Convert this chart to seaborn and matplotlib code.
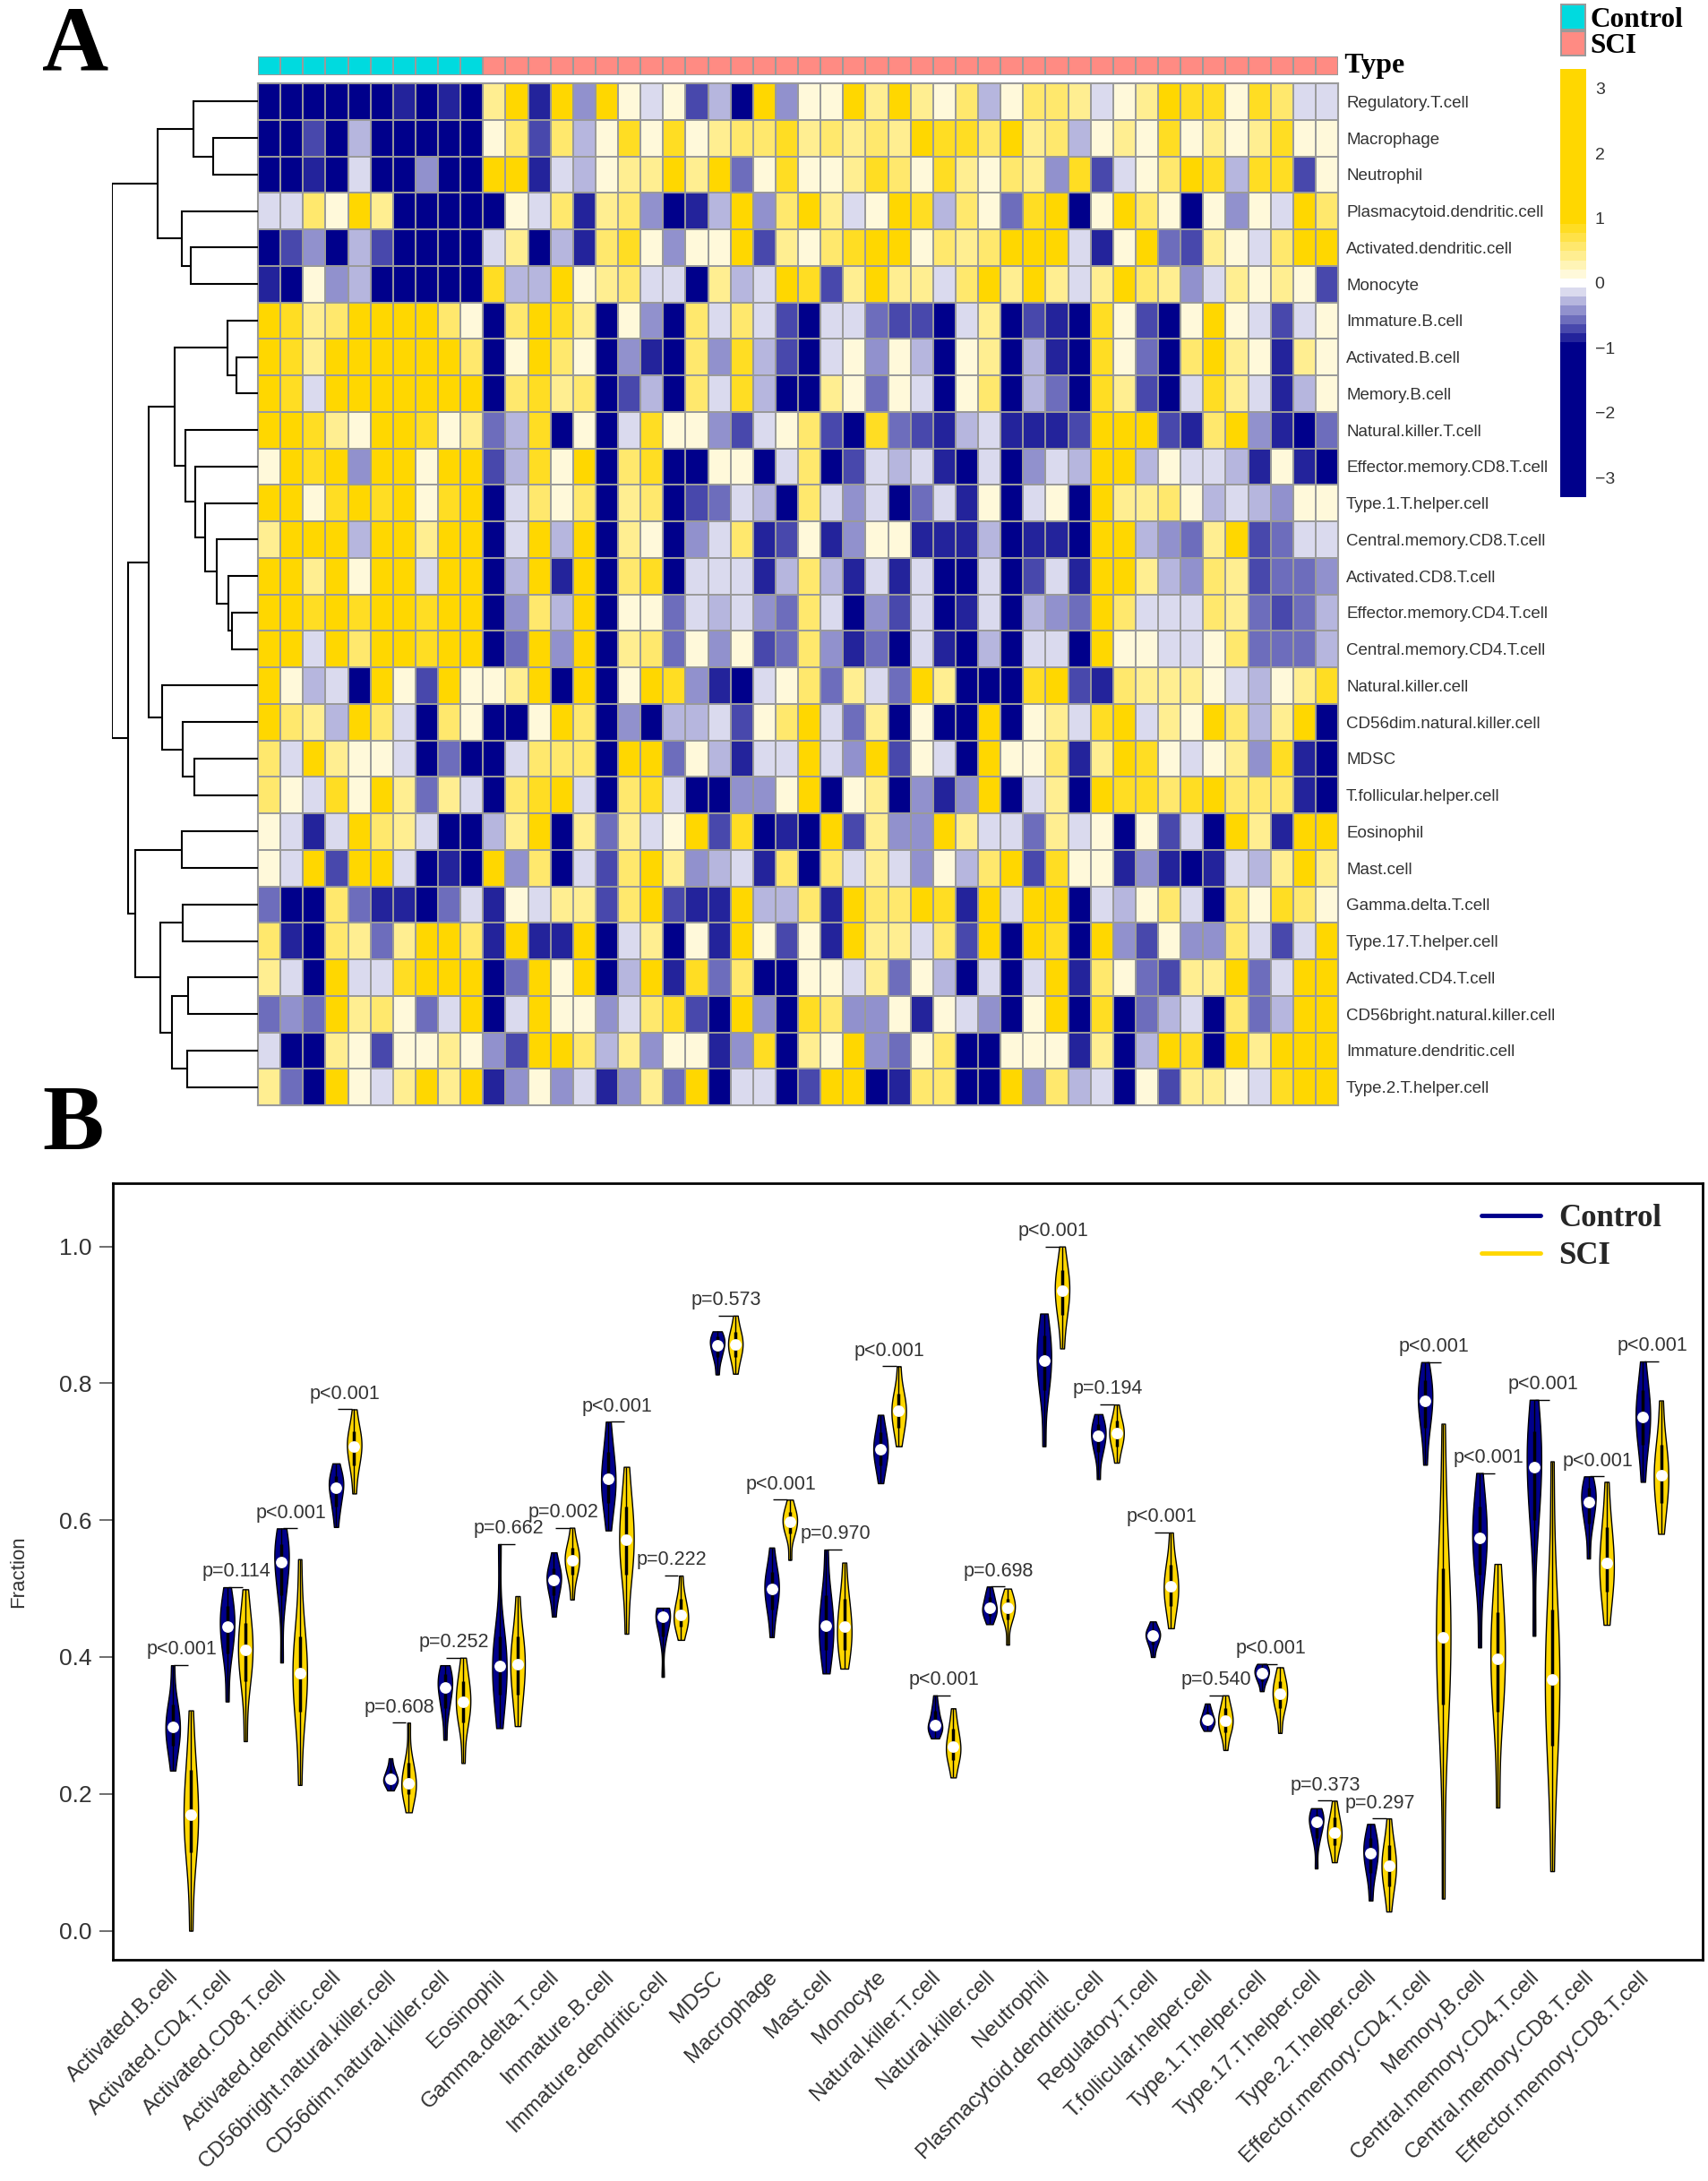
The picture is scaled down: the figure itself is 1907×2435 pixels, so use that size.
import matplotlib
matplotlib.use('Agg')
import matplotlib.pyplot as plt
from matplotlib.colors import LinearSegmentedColormap, ListedColormap
from matplotlib.lines import Line2D
from matplotlib.transforms import ScaledTranslation
import numpy as np
import pandas as pd
import seaborn as sns

# panel A data, one row per immune cell type
heat_rows = ['Regulatory.T.cell', 'Macrophage', 'Neutrophil', 'Plasmacytoid.dendritic.cell',
             'Activated.dendritic.cell', 'Monocyte', 'Immature.B.cell', 'Activated.B.cell',
             'Memory.B.cell', 'Natural.killer.T.cell', 'Effector.memory.CD8.T.cell',
             'Type.1.T.helper.cell', 'Central.memory.CD8.T.cell', 'Activated.CD8.T.cell',
             'Effector.memory.CD4.T.cell', 'Central.memory.CD4.T.cell', 'Natural.killer.cell',
             'CD56dim.natural.killer.cell', 'MDSC', 'T.follicular.helper.cell', 'Eosinophil',
             'Mast.cell', 'Gamma.delta.T.cell', 'Type.17.T.helper.cell', 'Activated.CD4.T.cell',
             'CD56bright.natural.killer.cell', 'Immature.dendritic.cell', 'Type.2.T.helper.cell']
sample_types = [0] * 10 + [1] * 38

# z-scores in tenths
heat_tenths = [
    [-20,-20,-20,-20,-20,-20,-9,-20,-9,-20, 4,15,-9,15,-4,15,2,-2,2,-7,-3,-20,15,-4,2, 2,15,4,15,4,1,6,-3,2,6,6,4,-1,1,4,15,8,8,1,8,6,-2,-1],
    [-20,-20,-7,-20,-3,-20,-20,-20,-20,-20, 2,6,-7,6,-3,2,8,1,8,1,4,6,6,8,4, 6,4,6,4,15,8,8,6,15,4,6,-3,1,4,2,8,2,4,2,4,8,2,1],
    [-20,-20,-9,-20,-1,-20,-20,-4,-20,-20, 15,15,-8,-2,-3,1,4,4,15,4,15,-6,2,8,1, 1,4,8,6,2,8,4,2,6,4,-4,8,-7,-1,2,6,15,8,-3,8,8,-7,2],
    [-2,-1,6,1,15,4,-20,-20,-20,-20, -20,1,-1,6,-8,4,6,-4,-20,-9,-3,15,-4,6,15, 4,-1,1,15,8,-3,6,1,-6,8,15,-20,2,15,6,1,-20,1,-4,2,-2,15,6],
    [-20,-7,-4,-20,-3,-7,-20,-20,-20,-20, -1,4,-20,-3,-8,6,8,1,-4,2,1,15,-7,4,2, 6,8,15,15,1,6,4,6,15,15,15,-1,-8,1,15,-6,-7,4,1,-1,6,15,15],
    [-9,-20,2,-4,-3,-20,-20,-20,-20,-20, 8,-3,-3,15,2,4,6,-1,-1,-20,4,-3,-2,15,8, -7,4,15,4,4,-2,6,15,4,15,4,-1,4,15,6,4,-4,-1,4,2,4,2,-7],
    [15,8,4,6,15,15,15,15,6,1, -20,6,15,8,4,-20,1,-4,-20,6,-2,6,-2,-7,-20, -1,-2,-6,-7,-7,-20,-1,4,-20,-7,-9,-20,8,2,-7,-20,2,15,1,-2,-7,-1,1],
    [15,8,4,15,15,15,15,15,15,6, -20,2,15,6,2,-20,-4,-8,-20,6,-4,8,-3,-7,-20, -1,2,-4,1,-3,-20,2,4,-20,-3,-9,-20,8,2,-6,-20,6,15,4,1,-9,4,1],
    [15,8,-1,15,15,15,15,15,15,15, -20,6,8,4,6,-20,-7,-3,-20,6,-2,8,-3,-20,-20, 4,2,-6,1,-2,-20,1,6,-20,-3,-6,-20,8,4,-7,-20,-1,8,4,-2,-9,-3,2],
    [15,15,8,4,2,15,15,8,1,4, -6,-3,8,-20,2,-20,-1,8,1,1,-4,-7,-2,2,6, -7,-20,8,-6,-7,-8,-3,-1,-8,-8,-9,-7,15,15,15,-7,-9,6,15,-4,-8,-20,-6],
    [2,15,8,15,-4,15,15,2,15,15, -7,-3,8,2,15,-20,6,8,-20,-20,1,2,-20,-2,6, -20,-7,-1,-3,-2,-8,-20,-2,-20,-4,-2,-3,15,15,-3,2,-1,-1,-3,-8,1,-9,-20],
    [15,15,2,8,15,8,15,1,8,15, -20,-2,6,1,6,-20,4,6,-20,-7,-6,-2,-3,-20,6, -2,-4,-1,-20,-6,-1,-9,2,-20,-2,2,-20,15,4,4,6,1,-3,-1,-3,-4,2,2],
    [4,15,15,15,-3,15,15,4,15,15, -20,-2,15,-3,15,-20,4,2,-20,-4,-1,6,-9,-7,2, -8,-4,2,2,-9,-8,-8,-3,-20,-8,-8,-20,15,15,-3,-4,-6,4,15,-7,-6,-2,-2],
    [15,15,4,15,2,15,15,-2,15,15, -20,-3,15,-8,15,-20,6,8,-20,-2,-2,-1,-9,-3,6, -3,-9,-1,-8,-2,-20,-20,-2,-20,-7,-2,-8,15,15,4,-3,-4,6,4,-7,-6,-6,-4],
    [15,15,8,15,8,15,15,8,15,15, -20,-4,6,-3,15,-20,1,1,-6,-1,-3,-1,-4,-6,6, -1,-20,-4,-7,-1,-20,-9,-2,-20,-3,-4,-6,15,6,-1,-2,-2,6,4,-6,-7,-6,-3],
    [15,15,-1,15,6,15,15,8,15,15, -20,-6,15,-4,15,-20,4,6,-6,1,-4,2,-7,-6,6, -4,-9,-6,-20,-2,-9,-20,-3,-20,-2,-1,-20,15,2,2,-2,-1,2,6,-6,-6,-6,-3],
    [15,2,-3,-2,-20,15,2,-7,15,2, 1,4,15,-20,15,-20,1,15,8,-4,-8,-20,-1,1,6, -6,4,-2,-6,15,4,-20,-20,-20,8,15,-7,-8,6,4,4,4,2,-2,-3,1,4,8],
    [15,6,4,-3,15,6,-1,-20,6,2, -20,-20,2,15,6,-20,-4,-20,-3,-3,-2,-7,1,6,15, -1,-6,4,-20,2,-20,-20,15,-20,2,4,-1,8,15,-1,4,2,15,6,-3,4,15,-20],
    [6,-1,15,4,2,2,-2,-20,-6,-20, -20,-1,6,6,6,-20,15,15,-6,1,-3,-9,-2,-1,15, -2,-4,15,-7,2,-2,-20,15,2,1,6,-8,4,15,8,2,-1,1,4,-4,8,-8,-20],
    [6,1,-2,8,1,15,4,-6,4,-2, -20,6,8,15,-2,-20,6,8,-2,-20,-20,-4,-4,1,15, -20,2,4,-20,-4,-9,-4,15,-20,-1,4,-20,15,8,8,6,8,15,6,6,6,-8,-20],
    [2,-2,-9,-1,15,6,4,-2,-20,-20, -3,4,15,-20,4,-6,4,-2,2,15,-7,8,-20,-8,-20, 15,-7,4,-4,-4,15,4,-1,-2,-6,4,-2,2,-20,2,-7,-1,-20,15,4,-9,15,15],
    [2,-1,15,-7,15,15,-2,-20,-9,-20, 15,-4,6,-20,-2,-7,6,15,4,-4,-3,-2,-9,6,-20, 6,-2,4,-1,-4,2,-3,6,15,-7,8,1,1,-9,-4,-8,-20,-9,-2,-3,4,15,4],
    [-6,-20,-20,6,-6,-9,-9,-20,-6,-2, -8,2,-1,4,4,-7,6,15,-7,-8,-9,15,-3,-3,6, -9,15,6,6,15,8,-8,15,-1,15,15,-20,-2,-3,2,6,-1,-20,6,2,8,6,2],
    [6,-8,-20,6,4,-6,4,15,15,6, -9,15,-9,-8,15,-20,-2,4,-20,1,-8,15,2,-7,2, -8,15,4,4,-2,6,-7,15,-20,15,8,-20,15,-4,-7,1,-4,-4,6,-2,-7,-2,15],
    [4,-1,-20,15,-1,-2,8,15,15,15, -20,-6,15,2,15,-20,-3,15,-9,8,-6,6,-20,-20,2, 2,-1,4,-6,2,-3,-20,-2,-20,-1,15,-9,6,1,-6,-7,4,4,15,-6,-1,15,15],
    [-6,-4,-6,15,4,6,1,-6,-1,15, -20,-2,15,1,2,-4,-2,6,8,-7,-20,15,-4,-20,8, 6,-4,-4,1,-9,2,-2,-4,-20,2,15,-20,8,-20,-6,-3,-1,-20,6,-6,-3,15,15],
    [-2,-20,-20,4,2,-7,1,1,4,1, -4,-7,15,15,6,-3,4,-4,2,1,-9,-4,8,-20,4, 1,15,-4,-6,1,6,-20,-20,1,1,2,-8,4,-20,-3,15,8,-20,15,4,15,15,15],
    [4,-6,-20,15,2,-2,4,15,4,15, -9,-4,2,-4,-1,-8,-4,4,-6,15,-20,-1,-2,-20,-7, 15,15,-20,-8,6,6,-20,-20,15,-4,6,-3,-2,-20,1,-7,4,4,2,-1,8,15,15],
]

# row dendrogram: (height, left, right), ints are row numbers
row_tree = (489,
            (336,
             (217, 0, (151, 1, 2)),
             (256, 3, (224, 4, 5))),
            (436,
             (367,
              (280,
               (101, 6, (71, 7, 8)),
               (242, 9, (209, 10, (176, 11, (139, 12, (99, 13, (87, 14, 15))))))),
              (321, 16, (251, 17, (214, 18, 19)))),
             (412,
              (254, 20, 21),
              (326,
               (252, 22, 23),
               (287, (234, 24, 25), (236, 26, 27))))))

# panel B data
violin_cells = ['Activated.B.cell', 'Activated.CD4.T.cell', 'Activated.CD8.T.cell', 'Activated.dendritic.cell',
                'CD56bright.natural.killer.cell', 'CD56dim.natural.killer.cell', 'Eosinophil', 'Gamma.delta.T.cell',
                'Immature.B.cell', 'Immature.dendritic.cell', 'MDSC', 'Macrophage', 'Mast.cell', 'Monocyte',
                'Natural.killer.T.cell', 'Natural.killer.cell', 'Neutrophil', 'Plasmacytoid.dendritic.cell',
                'Regulatory.T.cell', 'T.follicular.helper.cell', 'Type.1.T.helper.cell', 'Type.17.T.helper.cell',
                'Type.2.T.helper.cell', 'Effector.memory.CD4.T.cell', 'Memory.B.cell', 'Central.memory.CD4.T.cell',
                'Central.memory.CD8.T.cell', 'Effector.memory.CD8.T.cell']
p_labels = ['p<0.001', 'p=0.114', 'p<0.001', 'p<0.001', 'p=0.608', 'p=0.252', 'p=0.662', 'p=0.002', 'p<0.001',
            'p=0.222', 'p=0.573', 'p<0.001', 'p=0.970', 'p<0.001', 'p<0.001', 'p=0.698', 'p<0.001', 'p=0.194',
            'p<0.001', 'p=0.540', 'p<0.001', 'p=0.373', 'p=0.297', 'p<0.001', 'p<0.001', 'p<0.001', 'p<0.001', 'p<0.001']

ctrl_max = [.388,.502,.588,.683,.252,.388,.565,.553,.744,.472,.876,.560,.557,.754,.344,.503,.902,.755,.452,.332,.390,.179,.156,.831,.669,.776,.664,.832]
ctrl_q3 = [.330,.475,.565,.665,.235,.375,.430,.530,.700,.465,.868,.525,.490,.728,.322,.488,.870,.740,.440,.320,.385,.170,.135,.805,.620,.730,.648,.790]
ctrl_med = [.298,.444,.539,.647,.222,.355,.387,.513,.660,.459,.856,.500,.446,.704,.301,.472,.833,.723,.431,.308,.376,.159,.113,.774,.574,.677,.627,.751]
ctrl_q1 = [.270,.405,.490,.620,.215,.325,.345,.490,.625,.430,.838,.470,.410,.680,.292,.460,.790,.700,.418,.300,.365,.135,.085,.735,.520,.600,.595,.710]
ctrl_min = [.234,.335,.392,.590,.205,.279,.296,.459,.585,.371,.813,.429,.376,.654,.281,.448,.708,.660,.400,.292,.350,.091,.044,.681,.414,.431,.544,.656]

sci_max = [.322,.499,.543,.762,.304,.399,.489,.589,.678,.519,.899,.630,.538,.825,.325,.500,1.0,.769,.582,.344,.385,.190,.164,.741,.536,.686,.656,.775]
sci_q3 = [.235,.450,.430,.730,.245,.365,.430,.560,.620,.485,.875,.612,.485,.785,.295,.485,.965,.745,.535,.325,.365,.165,.125,.530,.465,.470,.590,.710]
sci_med = [.170,.410,.376,.708,.216,.335,.389,.542,.571,.461,.857,.598,.444,.760,.269,.472,.935,.727,.503,.307,.346,.143,.095,.429,.397,.367,.538,.666]
sci_q1 = [.115,.365,.320,.680,.200,.305,.345,.520,.520,.445,.838,.580,.410,.735,.250,.455,.900,.708,.475,.290,.325,.125,.065,.330,.320,.270,.495,.625]
sci_min = [0,.277,.213,.639,.173,.245,.299,.484,.434,.425,.814,.542,.383,.708,.224,.418,.851,.684,.442,.264,.289,.100,.028,.047,.180,.087,.447,.580]

# how often each of min, q1, median, q3, max enters the density estimate
stat_weights = [1, 2, 3, 2, 1]

NAVY = '#00008B'
GOLD = '#FFD700'
W, H = 1907, 2435

sns.set_theme(style='white')
plt.rcParams['font.family'] = ['Liberation Sans', 'DejaVu Sans']
SERIF = 'Liberation Serif'


def px_axes(left, top, right, bottom):
    return fig.add_axes([left / W, 1 - bottom / H, (right - left) / W, (bottom - top) / H])


def draw_tree(ax, node):
    # returns the row position and height of a node
    if isinstance(node, int):
        return node + 0.5, 0
    height, left, right = node
    y1, h1 = draw_tree(ax, left)
    y2, h2 = draw_tree(ax, right)
    ax.plot([h1, height, height, h2], [y1, y1, y2, y2], color='black', lw=1.5, solid_joinstyle='miter')
    return (y1 + y2) / 2, height


fig = plt.figure(figsize=(W / 100, H / 100), dpi=100)

# ---- panel A ----
score_cmap = LinearSegmentedColormap.from_list(
    'navy_gold', [(0, NAVY), (2.3 / 6.6, NAVY), (0.5, 'white'), (4.3 / 6.6, GOLD), (1, GOLD)], N=47)
type_cmap = ListedColormap(['#00DADF', '#FF8B83'])
GRID = '#9a9a9a'

ax_type = px_axes(288, 63, 1494, 84)
sns.heatmap([sample_types], ax=ax_type, cmap=type_cmap, cbar=False, linewidths=1.3, linecolor=GRID,
            xticklabels=False, yticklabels=False)
ax_type.text(1.0, 0.5, ' Type', transform=ax_type.transAxes, family=SERIF, fontweight='bold',
             fontsize=23, va='center', ha='left', color='black')

ax_heat = px_axes(288, 93, 1494, 1234)
ax_cbar = px_axes(1742, 77, 1771, 555)
sns.heatmap(np.array(heat_tenths) / 10, ax=ax_heat, cmap=score_cmap, vmin=-3.3, vmax=3.3, linewidths=1.3,
            linecolor=GRID, xticklabels=False, yticklabels=heat_rows, cbar_ax=ax_cbar,
            cbar_kws={'ticks': [-3, -2, -1, 0, 1, 2, 3]})
ax_heat.yaxis.tick_right()
ax_heat.tick_params(axis='y', length=0, pad=6.5, labelsize=13.5, labelcolor='#333333', labelrotation=0)
for spine in ax_heat.spines.values():
    spine.set_visible(True)
    spine.set_color(GRID)
    spine.set_linewidth(1.5)
ax_cbar.tick_params(length=0, pad=7, labelsize=14, labelcolor='#333333')
for spine in ax_cbar.spines.values():
    spine.set_visible(False)

ax_legend = px_axes(1742, 4, 1771, 63)
sns.heatmap([[0], [1]], ax=ax_legend, cmap=type_cmap, cbar=False, linewidths=1.5, linecolor=GRID,
            xticklabels=False, yticklabels=['Control', 'SCI'])
ax_legend.yaxis.tick_right()
ax_legend.tick_params(axis='y', length=0, pad=3, labelrotation=0)
for label in ax_legend.get_yticklabels():
    label.set(family=SERIF, fontweight='bold', fontsize=22.5, color='black')

ax_tree = px_axes(125, 93, 288, 1234)
draw_tree(ax_tree, row_tree)
ax_tree.set_xlim(row_tree[0], 0)
ax_tree.set_ylim(len(heat_rows), 0)
ax_tree.axis('off')

# ---- panel B ----
records = []
for i, cell in enumerate(violin_cells):
    ctrl_stats = (ctrl_min[i], ctrl_q1[i], ctrl_med[i], ctrl_q3[i], ctrl_max[i])
    sci_stats = (sci_min[i], sci_q1[i], sci_med[i], sci_q3[i], sci_max[i])
    for group, stats in (('Control', ctrl_stats), ('SCI', sci_stats)):
        for v, n in zip(stats, stat_weights):
            records.extend([{'Cell': cell, 'Group': group, 'Fraction': v}] * n)
violin_data = pd.DataFrame(records)

ax_vio = px_axes(126, 1321, 1901, 2188)
sns.violinplot(data=violin_data, x='Cell', y='Fraction', hue='Group', order=violin_cells,
               hue_order=['Control', 'SCI'], palette={'Control': NAVY, 'SCI': GOLD}, saturation=1,
               width=0.667, gap=0.2, cut=0, bw_adjust=0.9, density_norm='width', inner=None,
               linewidth=1, linecolor='black', legend=False, ax=ax_vio)

offset = 0.1667
for i in range(len(violin_cells)):
    xc, xs = i - offset, i + offset
    ax_vio.vlines([xc, xs], [ctrl_min[i], sci_min[i]], [ctrl_max[i], sci_max[i]], color='black', lw=1, zorder=3)
    ax_vio.vlines([xc, xs], [ctrl_q1[i], sci_q1[i]], [ctrl_q3[i], sci_q3[i]], color='black', lw=2.5, zorder=3)
    ax_vio.scatter([xc, xs], [ctrl_med[i], sci_med[i]], s=85, color='white', linewidths=0, zorder=4)
    top = max(ctrl_max[i], sci_max[i])
    ax_vio.hlines(top, i - 0.14, i + 0.12, color='black', lw=1, zorder=3)
    ax_vio.text(i, top + 0.0225, p_labels[i], ha='center', va='center', fontsize=15.5, color='#333333')

ax_vio.set_xlim(-1.266, 27.93)
ax_vio.set_ylim(-0.0425, 1.0925)
ax_vio.set_yticks([0, 0.2, 0.4, 0.6, 0.8, 1.0])
ax_vio.set_yticklabels(['0.0', '0.2', '0.4', '0.6', '0.8', '1.0'])
ax_vio.tick_params(axis='y', left=True, length=11, width=1.2, color='#555555', labelsize=19,
                   labelcolor='#333333', pad=6)
ax_vio.tick_params(axis='x', bottom=False, pad=0)
ax_vio.set_xlabel('')
ax_vio.set_ylabel('Fraction', fontsize=16, color='#333333', labelpad=25)
shift_left = ScaledTranslation(-15 / 100, 0, fig.dpi_scale_trans)
for label in ax_vio.get_xticklabels():
    label.set(rotation=45, ha='right', rotation_mode='anchor', fontsize=17.5, color='#333333')
    label.set_transform(label.get_transform() + shift_left)
for spine in ax_vio.spines.values():
    spine.set_visible(True)
    spine.set_color('black')
    spine.set_linewidth(2)

handles = [Line2D([], [], color=NAVY, lw=3.5), Line2D([], [], color=GOLD, lw=3.5)]
ax_vio.legend(handles, ['Control', 'SCI'], loc='upper right', bbox_to_anchor=(0.992, 1.009), frameon=False,
              handlelength=1.9, labelspacing=0.25, handletextpad=0.6,
              prop={'family': SERIF, 'weight': 'bold', 'size': 25})

# panel letters
fig.text(47 / W, 1 - 78 / H, 'A', family=SERIF, fontweight='bold', fontsize=74, color='black', va='baseline')
fig.text(47 / W, 1 - 1283 / H, 'B', family=SERIF, fontweight='bold', fontsize=74, color='black', va='baseline')

fig.savefig('out.png', dpi=100)
